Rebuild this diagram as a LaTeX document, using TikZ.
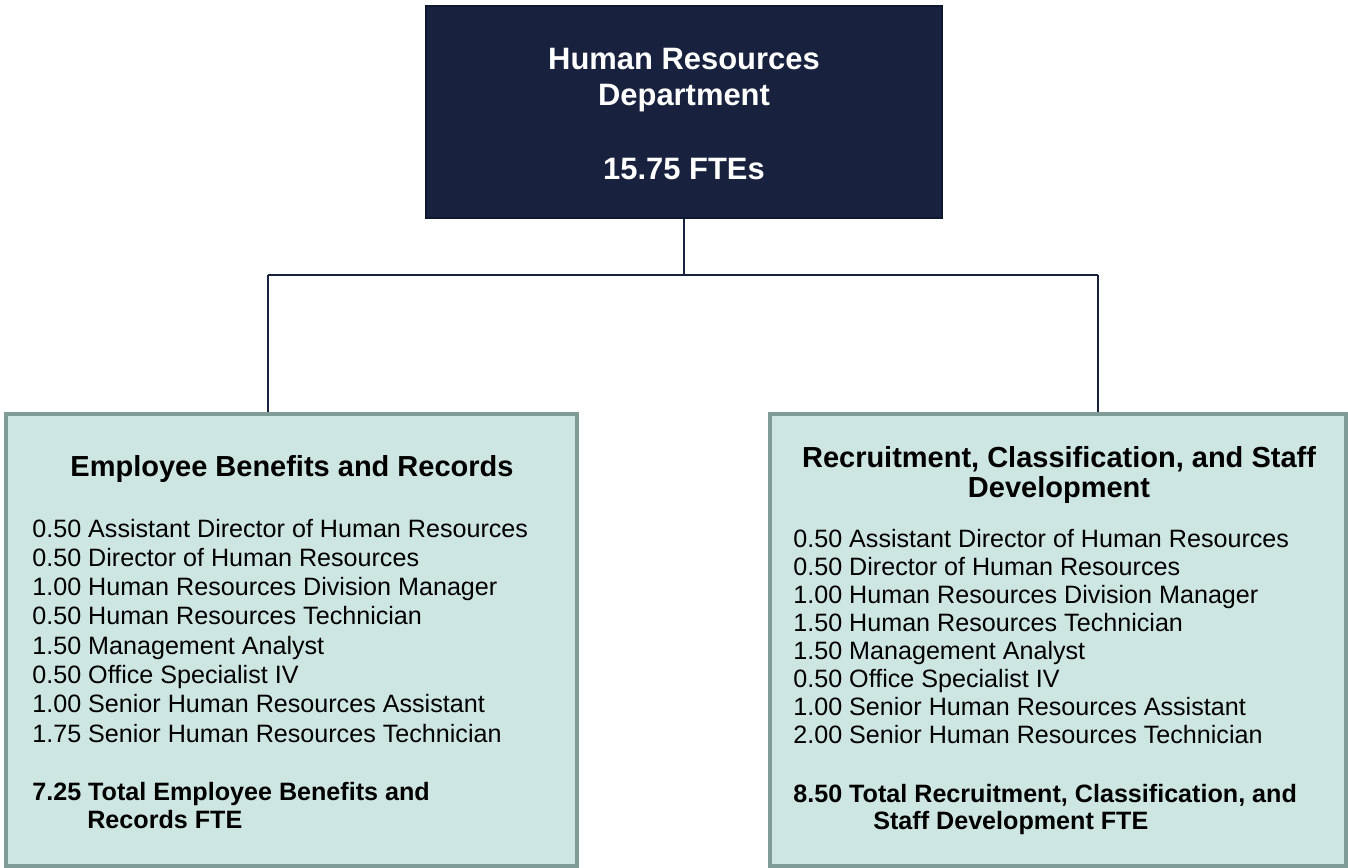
\documentclass[tikz,border=0pt]{standalone}
\usepackage{fontspec}
\setmainfont{Liberation Sans}
\usetikzlibrary{positioning}

\definecolor{hrnavy}{HTML}{18223F}
\definecolor{hredge}{HTML}{0F172E}
\definecolor{divfill}{HTML}{CDE6E1}
\definecolor{divedge}{HTML}{7F9C96}

\tikzset{
  deptbox/.style={draw=hredge, line width=1.2pt, fill=hrnavy, minimum width=10.32cm, minimum height=4.24cm, inner sep=0pt},
  divbox/.style={draw=divedge, line width=2.6pt, fill=divfill, minimum height=9.04cm, inner sep=0pt},
  link/.style={draw=hrnavy, line width=1.1pt},
  depttext/.style={anchor=base, text=white, font=\fontsize{17.6}{21}\selectfont\bfseries, inner sep=0pt},
  divtitle/.style={anchor=base, font=\fontsize{16.5}{20}\selectfont\bfseries, inner sep=0pt},
  jobline/.style={anchor=base west, font=\fontsize{14.3}{17}\selectfont, inner sep=0pt},
  totline/.style={anchor=base west, font=\fontsize{14.3}{17}\selectfont\bfseries, inner sep=0pt}
}

\begin{document}
\begin{tikzpicture}[x=0.02cm,y=-0.02cm]
  \useasboundingbox (0,0) rectangle (1348,868);
  % department
  \node[deptbox] (hrdept) at (684,112) {};
  \node[depttext] (hrname) at (684,70) {Human Resources};
  \node[depttext] (hrname2) at (684,106) {Department};
  \node[depttext] (hrfte) at (684,180) {15.75 FTEs};
  % divisions
  \node[divbox, minimum width=11.42cm] (benefits) at (291.5,640) {};
  \node[divbox, minimum width=11.52cm] (recruit) at (1058,640) {};
  % connectors
  \coordinate (bj) at (268,275);
  \coordinate (rj) at (1098,275);
  \draw[link] (hrdept.south) -- (hrdept.south |- bj);
  \draw[link] (bj) -- (rj);
  \draw[link] (bj) -- (bj |- benefits.north);
  \draw[link] (rj) -- (rj |- recruit.north);
  % employee benefits and records
  \node[divtitle] (bentitle) at (292,476) {Employee Benefits and Records};
  \foreach \job [count=\i from 0] in {0.50 Assistant Director of Human Resources,
      0.50 Director of Human Resources, 1.00 Human Resources Division Manager,
      0.50 Human Resources Technician, 1.50 Management Analyst,
      0.50 Office Specialist IV, 1.00 Senior Human Resources Assistant,
      1.75 Senior Human Resources Technician}
    \node[jobline] (ben\i) at (32,537+29.3*\i) {\job};
  \node[totline] (bentot) at (32,800) {7.25 Total Employee Benefits and};
  \node[totline] (bentot2) at (87,828) {Records FTE};
  % recruitment, classification, and staff development
  \node[divtitle] (rectitle) at (1059,467) {Recruitment, Classification, and Staff};
  \node[divtitle] (rectitle2) at (1059,497) {Development};
  \foreach \job [count=\i from 0] in {0.50 Assistant Director of Human Resources,
      0.50 Director of Human Resources, 1.00 Human Resources Division Manager,
      1.50 Human Resources Technician, 1.50 Management Analyst,
      0.50 Office Specialist IV, 1.00 Senior Human Resources Assistant,
      2.00 Senior Human Resources Technician}
    \node[jobline] (rec\i) at (793,547+28*\i) {\job};
  \node[totline] (rectot) at (793,802) {8.50 Total Recruitment, Classification, and};
  \node[totline] (rectot2) at (873,829) {Staff Development FTE};
\end{tikzpicture}
\end{document}
